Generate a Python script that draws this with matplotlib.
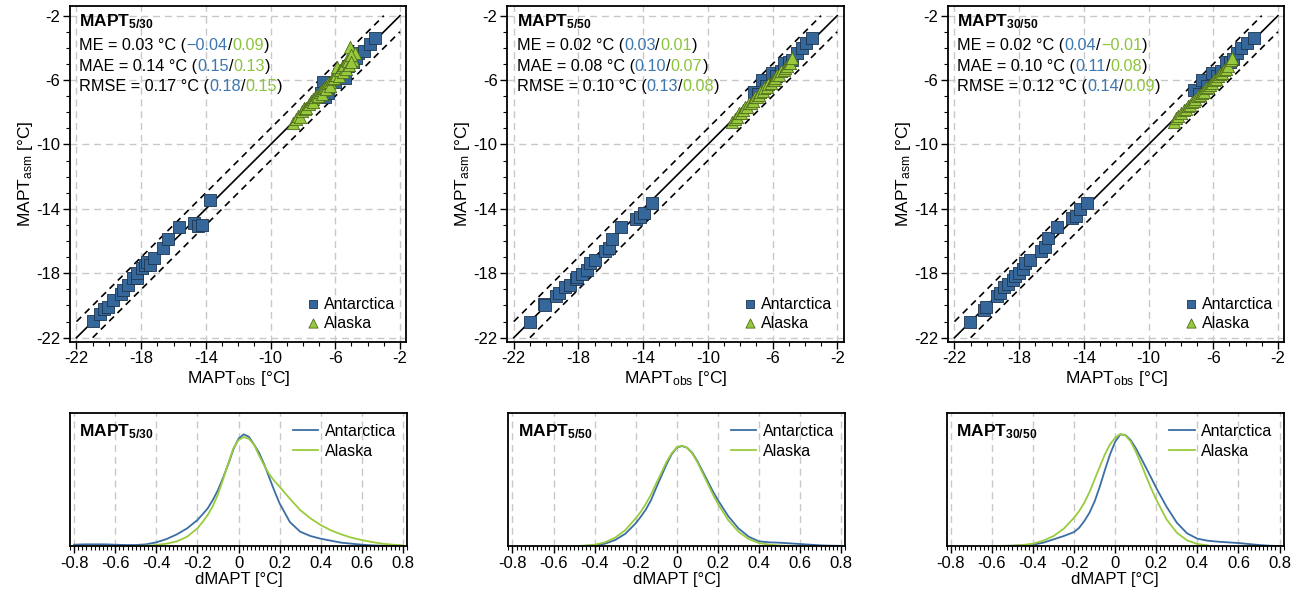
import numpy as np
import matplotlib
matplotlib.use("Agg")
import matplotlib.pyplot as plt
from matplotlib.ticker import MultipleLocator

plt.rcParams["font.family"] = ["Liberation Sans", "DejaVu Sans"]
plt.rcParams["mathtext.default"] = "regular"
plt.rcParams["axes.unicode_minus"] = False

# colours
BLUE = "#35679b"
GREEN = "#98c93c"
BLUE_TXT = "#3d77b0"
GREEN_TXT = "#8cc43c"

NAN = np.nan

PANELS = ["5/30", "5/50", "30/50"]

# ---- scatter data (MAPT_obs, MAPT_asm) ----
# MAPT 5/30
ANT_OBS_1 = [-20.97, -20.56, -20.29, -20.08, -19.73, -19.26, -19.12, -18.81, -18.50, -18.29,
             -18.25, -17.98, -17.78, -17.63, -17.47, -17.22, -16.64, -16.33, -15.67, -14.75,
             -14.48, -14.21, -13.76, -6.75, -6.90, -6.64, -6.44, -6.00, -5.80, -5.51,
             -5.41, -5.20, -4.90, -4.73, -4.58, -4.21, -3.86, -3.55]
ANT_ASM_1 = [-20.96, -20.53, -20.24, -20.07, -19.66, -19.29, -19.04, -18.73, -18.30, -18.31,
             -18.00, -17.69, -17.48, -17.28, -17.48, -17.07, -16.45, -15.89, -15.10, -14.86,
             -15.06, -15.00, -13.45, -6.10, -6.80, -7.03, -6.82, -6.10, -5.60, -5.79,
             -5.89, -5.10, -4.90, -4.65, -4.33, -4.17, -3.76, -3.40]
ALA_OBS_1 = [-8.60, -8.45, -8.30, -8.19, -8.05, -7.95, -7.85, -7.78, -7.60, -7.50,
             -7.40, -7.37, -7.25, -7.15, -7.05, -6.95, -6.85, -6.80, -6.70, -6.60,
             -6.55, -6.44, -6.35, -6.30, -6.20, -6.10, -6.03, -5.95, -5.92, -5.80,
             -5.71, -5.61, -5.55, -5.45, -5.35, -5.30, -5.20, -5.15, -5.10, -4.89,
             -4.79, -5.05, -5.00]
ALA_ASM_1 = [-8.68, -8.40, -8.22, -8.27, -7.95, -7.75, -7.80, -7.75, -7.50, -7.30,
             -7.20, -7.34, -7.05, -6.90, -7.00, -6.72, -6.60, -6.85, -6.50, -6.40,
             -6.55, -6.20, -6.10, -6.35, -5.95, -5.85, -5.68, -5.70, -5.17, -5.75,
             -5.38, -5.17, -5.50, -5.05, -5.30, -4.75, -4.80, -5.05, -3.93, -4.75,
             -4.34, -4.45, -4.85]

# MAPT 5/50
ANT_OBS_2 = [-21.01, -20.14, -20.04, -19.40, -19.20, -18.80, -18.55, -18.17, -18.06, -17.76,
             -17.46, -17.26, -16.95, -16.33, -16.13, -15.93, -15.35, -14.42, -14.21, -13.92,
             -13.47, -7.16, -6.90, -6.64, -6.40, -6.03, -5.80, -5.50, -5.30, -5.00,
             -4.80, -4.48, -4.17, -3.92, -3.55]
ANT_ASM_2 = [-21.00, -19.93, -19.97, -19.39, -19.24, -18.87, -18.72, -18.37, -18.21, -18.04,
             -17.80, -17.38, -17.17, -16.60, -16.41, -15.87, -15.14, -14.65, -14.52, -14.24,
             -13.61, -6.72, -6.85, -6.00, -6.35, -5.58, -5.75, -5.45, -4.96, -4.86,
             -4.75, -4.33, -4.02, -3.71, -3.40]
ALA_OBS_2 = [-8.50, -8.35, -8.20, -8.09, -7.95, -7.80, -7.70, -7.55, -7.47, -7.35,
             -7.20, -7.10, -6.95, -6.85, -6.75, -6.60, -6.50, -6.33, -6.25, -6.10,
             -6.00, -5.90, -5.82, -5.70, -5.60, -5.45, -5.30, -5.20, -5.10, -4.99,
             -4.90, -4.79]
ALA_ASM_2 = [-8.58, -8.40, -8.30, -8.06, -8.05, -7.85, -7.70, -7.65, -7.44, -7.40,
             -7.30, -7.05, -7.05, -6.93, -6.75, -6.70, -6.50, -6.41, -6.25, -6.20,
             -6.00, -6.00, -5.89, -5.70, -5.70, -5.45, -5.37, -5.25, -5.10, -4.96,
             -4.95, -4.65]

# MAPT 30/50
ANT_OBS_3 = [-21.01, -20.19, -20.08, -19.36, -19.16, -18.95, -18.70, -18.37, -18.23, -18.02,
             -17.75, -17.61, -17.30, -16.62, -16.43, -16.23, -15.65, -14.72, -14.47, -14.21,
             -13.79, -7.20, -6.90, -6.68, -6.40, -6.06, -5.80, -5.50, -5.24, -4.95,
             -4.80, -4.52, -4.31, -3.90, -3.49]
ANT_ASM_3 = [-21.00, -20.28, -20.07, -19.39, -19.20, -18.87, -18.67, -18.42, -18.17, -18.00,
             -17.75, -17.38, -17.17, -16.60, -16.39, -15.83, -15.14, -14.58, -14.42, -14.03,
             -13.65, -6.62, -6.85, -6.00, -6.35, -5.58, -5.75, -5.45, -4.86, -4.90,
             -4.70, -4.33, -4.02, -3.71, -3.40]
ALA_OBS_3 = [-8.44, -8.30, -8.15, -8.00, -7.82, -7.70, -7.55, -7.45, -7.30, -7.20,
             -7.10, -6.95, -6.85, -6.70, -6.58, -6.45, -6.30, -6.20, -6.06, -5.95,
             -5.85, -5.70, -5.60, -5.44, -5.35, -5.20, -5.10, -4.93, -4.83]
ALA_ASM_3 = [-8.58, -8.35, -8.25, -8.05, -7.86, -7.80, -7.60, -7.55, -7.34, -7.30,
             -7.15, -7.00, -6.95, -6.80, -6.72, -6.50, -6.40, -6.30, -6.20, -6.00,
             -5.95, -5.75, -5.65, -5.58, -5.40, -5.30, -5.10, -4.75, -4.65]

ANT_OBS = [ANT_OBS_1, ANT_OBS_2, ANT_OBS_3]
ANT_ASM = [ANT_ASM_1, ANT_ASM_2, ANT_ASM_3]
ALA_OBS = [ALA_OBS_1, ALA_OBS_2, ALA_OBS_3]
ALA_ASM = [ALA_ASM_1, ALA_ASM_2, ALA_ASM_3]

# ---- statistics shown in the panels ----
ME_ALL = ["0.03", "0.02", "0.02"]
ME_ANT = ["\u22120.04", "0.03", "0.04"]
ME_ALA = ["0.09", "0.01", "\u22120.01"]
MAE_ALL = ["0.14", "0.08", "0.10"]
MAE_ANT = ["0.15", "0.10", "0.11"]
MAE_ALA = ["0.13", "0.07", "0.08"]
RMSE_ALL = ["0.17", "0.10", "0.12"]
RMSE_ANT = ["0.18", "0.13", "0.14"]
RMSE_ALA = ["0.15", "0.08", "0.09"]

# ---- density curves of dMAPT ----
DX = [-0.8, -0.75, -0.7, -0.65, -0.6, -0.55, -0.5, -0.45, -0.4, -0.35, -0.3, -0.25, -0.2,
      -0.175, -0.15, -0.125, -0.1, -0.075, -0.05, -0.025, 0, 0.025, 0.05, 0.075, 0.1, 0.125,
      0.15, 0.175, 0.2,
      0.25, 0.3, 0.35, 0.4, 0.45, 0.5, 0.55, 0.6, 0.65, 0.7, 0.75, 0.8]

DENS_ANT_1 = [0.04, 0.05, 0.05, 0.05, 0.04, 0.03, 0.03, 0.05, 0.11, 0.21, 0.35, 0.53, 0.78,
              0.95, 1.13, 1.38, 1.68, 2.05, 2.45, 2.9, 3.22, 3.35, 3.28, 3.05, 2.8, 2.45,
              2.05, 1.65, 1.28,
              0.72, 0.43, 0.3, 0.22, 0.16, 0.1, 0.07, 0.04, 0.02, 0.01, 0.005, 0.0]
DENS_ALA_1 = [NAN, NAN, NAN, NAN, NAN, NAN, 0.0, 0.01, 0.03, 0.07, 0.14, 0.28, 0.53,
              0.72, 0.93, 1.2, 1.55, 2.0, 2.48, 2.93, 3.18, 3.27, 3.22, 3.05, 2.72, 2.42,
              2.15, 1.95, 1.78,
              1.42, 1.08, 0.83, 0.63, 0.47, 0.35, 0.25, 0.18, 0.12, 0.07, 0.04, 0.02]
DENS_ANT_2 = [NAN, NAN, NAN, NAN, NAN, NAN, 0.0, 0.005, 0.02, 0.07, 0.18, 0.37, 0.68,
              0.88, 1.1, 1.38, 1.75, 2.1, 2.45, 2.75, 2.95, 3.0, 2.95, 2.8, 2.55, 2.25,
              1.95, 1.65, 1.38,
              0.9, 0.53, 0.28, 0.14, 0.11, 0.1, 0.08, 0.06, 0.04, 0.02, 0.01, 0.005]
DENS_ALA_2 = [NAN, NAN, NAN, NAN, NAN, NAN, 0.0, 0.01, 0.04, 0.11, 0.25, 0.48, 0.83,
              1.03, 1.27, 1.55, 1.88, 2.2, 2.52, 2.78, 2.96, 3.01, 2.95, 2.78, 2.52, 2.2,
              1.88, 1.56, 1.27,
              0.78, 0.43, 0.21, 0.09, 0.04, 0.015, 0.005, 0.0, NAN, NAN, NAN, NAN]
DENS_ANT_3 = [NAN, NAN, NAN, NAN, 0.0, 0.003, 0.008, 0.02, 0.04, 0.1, 0.2, 0.3, 0.42,
              0.55, 0.75, 1.0, 1.34, 1.78, 2.28, 2.75, 3.13, 3.35, 3.33, 3.18, 2.94, 2.65,
              2.35, 2.05, 1.74,
              1.18, 0.7, 0.38, 0.22, 0.16, 0.13, 0.11, 0.09, 0.06, 0.03, 0.01, 0.0]
DENS_ALA_3 = [NAN, NAN, NAN, NAN, 0.0, 0.005, 0.01, 0.03, 0.07, 0.16, 0.3, 0.52, 0.85,
              1.05, 1.3, 1.62, 2.0, 2.38, 2.75, 3.05, 3.25, 3.36, 3.32, 3.14, 2.84, 2.48,
              2.1, 1.73, 1.39,
              0.8, 0.4, 0.17, 0.06, 0.02, NAN, NAN, NAN, NAN, NAN, NAN, NAN]

DENS_ANT = [DENS_ANT_1, DENS_ANT_2, DENS_ANT_3]
DENS_ALA = [DENS_ALA_1, DENS_ALA_2, DENS_ALA_3]

XT_TOP = [-22, -18, -14, -10, -6, -2]
XT_BOT = [-0.8, -0.6, -0.4, -0.2, 0, 0.2, 0.4, 0.6, 0.8]

GRID_KW = dict(color="#c8c8c8", lw=1.0, ls=(0, (5, 3.5)))


def style_ticks(ax, minor):
    ax.xaxis.set_minor_locator(MultipleLocator(minor))
    ax.tick_params(which="major", direction="out", length=5, width=1,
                   top=False, right=False, labelsize=12, pad=2)
    ax.tick_params(which="minor", direction="out", length=3, width=0.8,
                   top=False, right=False)
    for sp in ax.spines.values():
        sp.set_linewidth(1.3)


def main():
    fig = plt.figure(figsize=(13.04, 5.97), dpi=100)
    lefts_top = [0.0537, 0.3890, 0.7270]
    lefts_bot = [0.0537, 0.3898, 0.7260]

    stats = [
        ("ME", ME_ALL, ME_ANT, ME_ALA),
        ("MAE", MAE_ALL, MAE_ANT, MAE_ALA),
        ("RMSE", RMSE_ALL, RMSE_ANT, RMSE_ALA),
    ]

    lo, hi, band = -22, -2, 1

    for i, name in enumerate(PANELS):
        # ---------- scatter panel ----------
        ax = fig.add_axes([lefts_top[i], 0.4276, 0.2580, 0.5623])
        ax.set_axisbelow(True)
        ax.grid(True, **GRID_KW)

        ax.plot([lo, hi], [lo, hi], color="k", lw=1.2, zorder=2)
        ax.plot([lo, hi - band], [lo + band, hi], color="k", lw=1.2,
                ls=(0, (4, 3)), zorder=2)
        ax.plot([lo + band, hi], [lo, hi - band], color="k", lw=1.2,
                ls=(0, (4, 3)), zorder=2)

        ax.scatter(ANT_OBS[i], ANT_ASM[i], marker="s", s=64, c=BLUE,
                   edgecolors="#1f3550", linewidths=0.6, zorder=3, label="Antarctica")
        ax.scatter(ALA_OBS[i], ALA_ASM[i], marker="^", s=78, c=GREEN,
                   edgecolors="#4d6a1e", linewidths=0.6, zorder=4, label="Alaska")

        ax.set_xlim(-22.4, -1.6)
        ax.set_ylim(-22.25, -1.4)
        ax.set_xticks(XT_TOP)
        ax.set_yticks(XT_TOP)
        ax.set_xticklabels([str(v) for v in XT_TOP])
        ax.set_yticklabels([str(v) for v in XT_TOP])
        ax.yaxis.set_minor_locator(MultipleLocator(1))
        style_ticks(ax, 1)

        ax.set_xlabel("MAPT$_{obs}$ [°C]", fontsize=12.5, labelpad=2)
        ax.set_ylabel("MAPT$_{asm}$ [°C]", fontsize=12.5, labelpad=1)

        ax.text(0.028, 0.953, "MAPT$_{" + name + "}$", transform=ax.transAxes,
                fontsize=12.5, fontweight="bold", va="center", ha="left")

        for k, (lab, tot, ant, ala) in enumerate(stats):
            y = 0.881 - k * 0.061
            t = ax.text(0.028, y, f"{lab} = {tot[i]} °C (", transform=ax.transAxes,
                        fontsize=11.7, va="center", ha="left")
            for piece, col in [(ant[i], BLUE_TXT), ("/", "k"), (ala[i], GREEN_TXT), (")", "k")]:
                t = ax.annotate(piece, xy=(1, 0), xycoords=t, va="bottom", ha="left",
                                fontsize=11.7, color=col)

        ax.legend(loc="lower right", frameon=False, fontsize=11.5, markerscale=0.75,
                  handletextpad=0.1, labelspacing=0.25, borderaxespad=0.3,
                  handlelength=1.2)

        # ---------- density panel ----------
        bx = fig.add_axes([lefts_bot[i], 0.0854, 0.2584, 0.2233])
        bx.set_axisbelow(True)
        bx.grid(True, axis="x", **GRID_KW)
        bx.plot(DX, DENS_ANT[i], color="#3b6ea5", lw=1.3, label="Antarctica")
        bx.plot(DX, DENS_ALA[i], color="#9acb3c", lw=1.3, label="Alaska")
        bx.set_xlim(-0.82, 0.82)
        bx.set_ylim(0, 4.0)
        bx.set_yticks([])
        bx.set_xticks(XT_BOT)
        bx.set_xticklabels([f"{v:g}" for v in XT_BOT])
        style_ticks(bx, 0.02)
        bx.set_xlabel("dMAPT [°C]", fontsize=12, labelpad=1)

        bx.text(0.028, 0.855, "MAPT$_{" + name + "}$", transform=bx.transAxes,
                fontsize=12.5, fontweight="bold", va="center", ha="left")
        bx.legend(loc="upper right", frameon=False, fontsize=11.5, handlelength=1.6,
                  handletextpad=0.4, labelspacing=0.3, borderaxespad=0.3)

    fig.savefig("out.png", dpi=100)
    plt.close(fig)


if __name__ == "__main__":
    main()
